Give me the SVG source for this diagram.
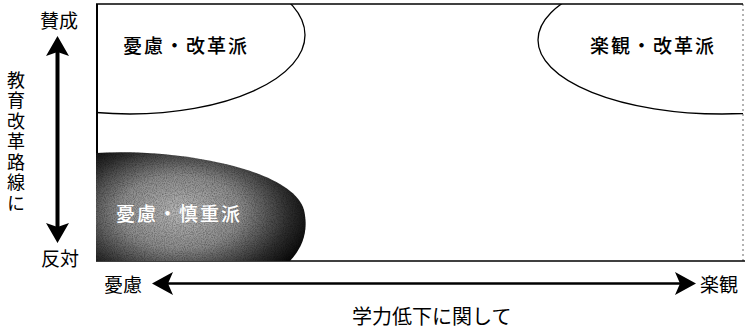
<svg xmlns="http://www.w3.org/2000/svg" width="745" height="330" viewBox="0 0 745 330">
  <style>
    .t { font-family: "Noto Sans CJK JP", "Noto Sans CJK SC", sans-serif; font-size: 19px; fill: #000; }
    .lbl { font-family: "Noto Sans CJK JP", "Noto Sans CJK SC", sans-serif; font-size: 19px; font-weight: 500; fill: #000; letter-spacing: 2px; }
    .line { stroke: #000; fill: none; }
    .head { fill: #000; stroke: none; }
  </style>
  <defs>
    <radialGradient id="g" cx="180" cy="212" r="135" gradientUnits="userSpaceOnUse" gradientTransform="translate(180 212) scale(1 0.6) translate(-180 -212)">
      <stop offset="0" stop-color="#b8b8b8"/>
      <stop offset="0.45" stop-color="#8a8a8a"/>
      <stop offset="0.8" stop-color="#303030"/>
      <stop offset="1" stop-color="#0a0a0a"/>
    </radialGradient>
    <filter id="noise" x="0" y="0" width="100%" height="100%">
      <feTurbulence type="fractalNoise" baseFrequency="0.9" numOctaves="2" seed="3" result="n"/>
      <feColorMatrix type="matrix" values="0 0 0 0 0  0 0 0 0 0  0 0 0 0 0  1.2 0 0 0 -0.45"/>
    </filter>
    <clipPath id="blobclip">
      <path d="M96,153 C175,148 292,168 304,210 C309,232 302,248 290,261 L96,261 Z"/>
    </clipPath>
    <clipPath id="box">
      <rect x="96" y="4" width="647" height="257"/>
    </clipPath>
  </defs>

  <g id="frame">
    <line class="line" x1="96" y1="4" x2="743" y2="4" stroke-width="1.5"/>
    <line class="line" x1="96" y1="261" x2="745" y2="261" stroke-width="1.5"/>
    <line class="line" x1="97" y1="4" x2="97" y2="261" stroke-width="2"/>
    <line class="line" x1="743" y1="4" x2="743" y2="261" stroke-width="0.6" stroke="#ccc" stroke-dasharray="2 3"/>
  </g>

  <g id="worry-reform">
    <ellipse class="line" cx="130" cy="35" rx="175" ry="79" stroke-width="1.3" clip-path="url(#box)"/>
    <text class="lbl" x="123" y="53">憂慮・改革派</text>
  </g>

  <g id="optimism-reform">
    <ellipse class="line" cx="722" cy="40" rx="184" ry="74" stroke-width="1.3" clip-path="url(#box)"/>
    <text class="lbl" x="590" y="53">楽観・改革派</text>
  </g>

  <g id="worry-cautious">
    <path d="M96,153 C175,148 292,168 304,210 C309,232 302,248 290,261 L96,261 Z" fill="url(#g)"/>
    <rect x="96" y="148" width="215" height="115" filter="url(#noise)" clip-path="url(#blobclip)" opacity="0.55"/>
    <text class="lbl" x="116" y="221" style="fill:#fff">憂慮・慎重派</text>
  </g>

  <g id="connectors">
    <line class="line" x1="57.5" y1="52" x2="57.5" y2="228" stroke-width="4"/>
    <path class="head" d="M57.5,36 L69,56 L57.5,52 L46,56 Z"/>
    <path class="head" d="M57.5,243 L69,223 L57.5,227 L46,223 Z"/>
    <line class="line" x1="168" y1="283.5" x2="681" y2="283.5" stroke-width="2.5"/>
    <path class="head" d="M152,283.5 L173,272 L168,283.5 L173,295 Z"/>
    <path class="head" d="M696,283.5 L675,272 L680,283.5 L675,295 Z"/>
  </g>

  <g id="axis-labels">
    <text class="t" x="40" y="28">賛成</text>
    <text class="t" x="41" y="266">反対</text>
    <text class="t" x="104" y="292">憂慮</text>
    <text class="t" x="700" y="292">楽観</text>
    <text class="t" x="352" y="324" style="font-size:20px">学力低下に関して</text>
    <text class="t" x="16" y="71" style="writing-mode: vertical-rl; letter-spacing: 2.5px; font-size:18px">教育改革路線に</text>
  </g>
</svg>
